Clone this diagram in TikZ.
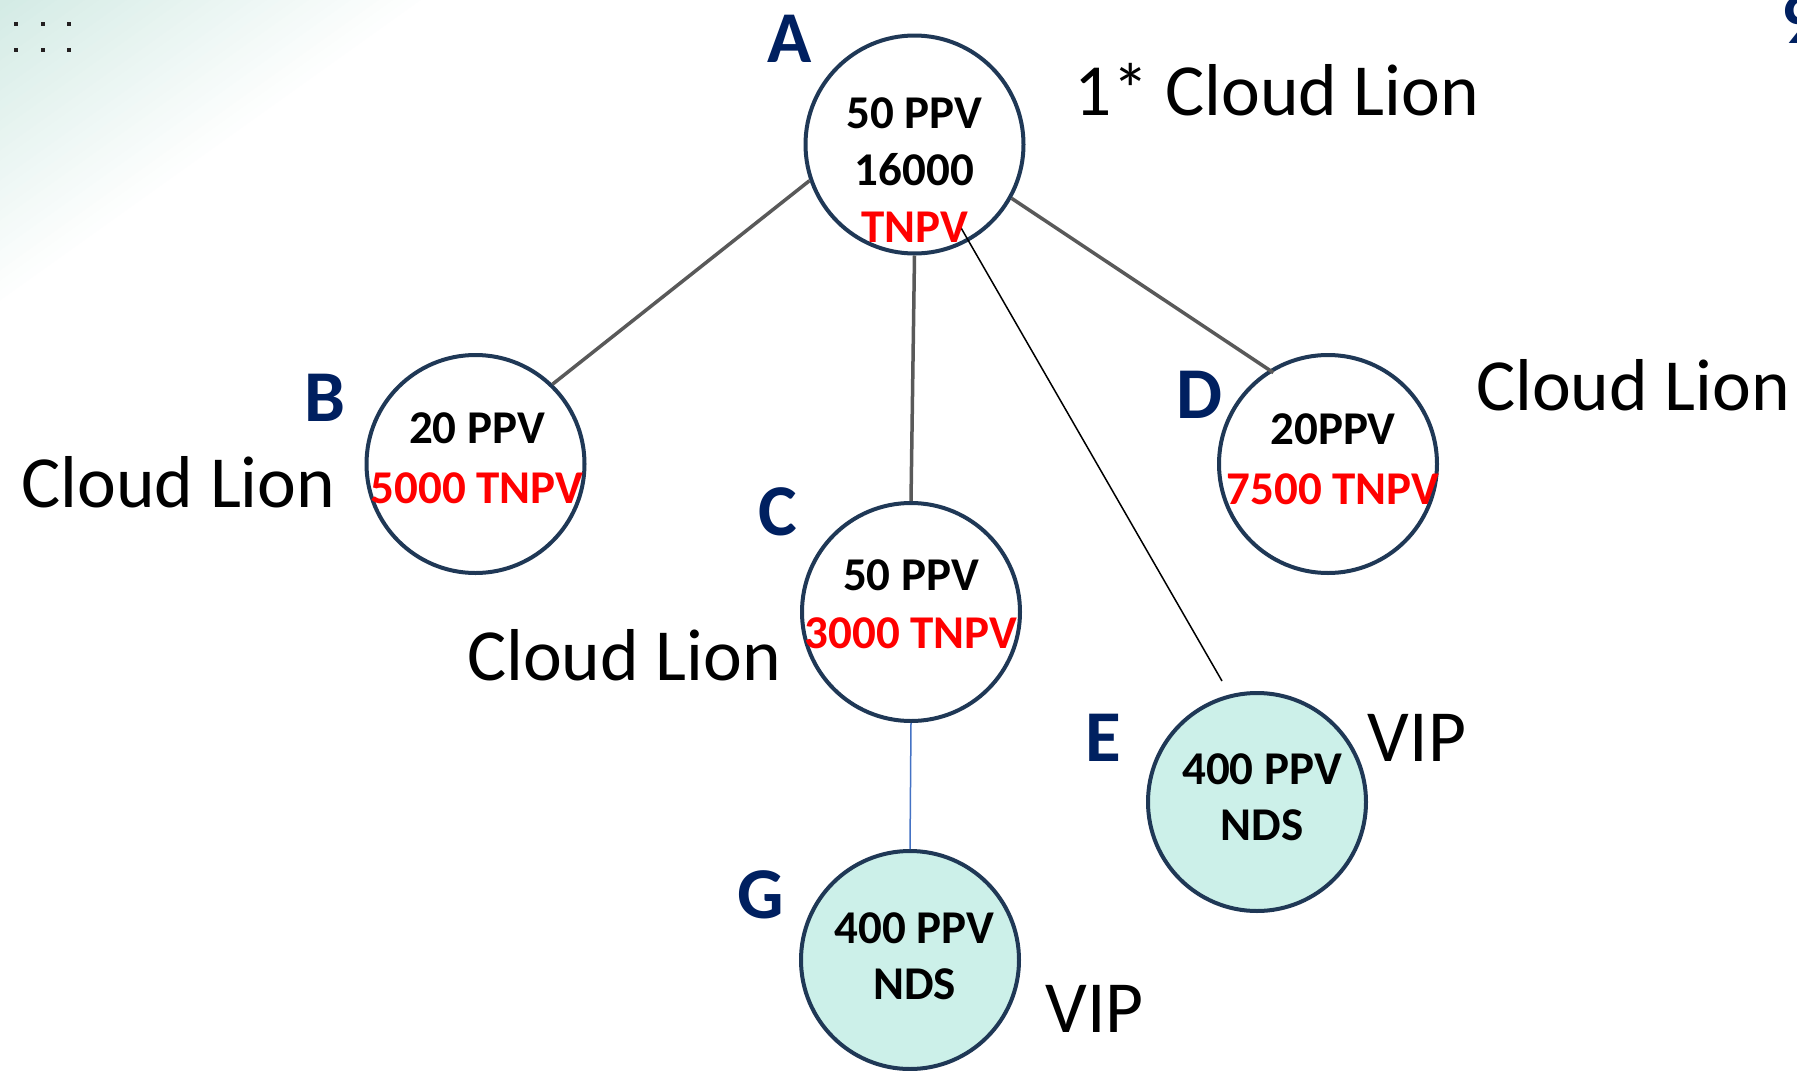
\documentclass[tikz,border=0pt]{standalone}
\usepackage{fontspec}
\setmainfont{Carlito}
\usetikzlibrary{calc}
\definecolor{navy}{RGB}{0,32,96}
\definecolor{ring}{RGB}{31,56,86}
\definecolor{edgegray}{RGB}{89,89,89}
\definecolor{vipfill}{RGB}{204,240,233}
\definecolor{linkblue}{RGB}{68,114,196}
\definecolor{bgteal}{RGB}{212,235,229}
\definecolor{dotcol}{RGB}{35,31,32}
\begin{document}
\begin{tikzpicture}[x=1pt,y=-1pt,
  circ/.style={circle, draw=ring, line width=4pt, minimum size=218pt, inner sep=0pt, fill=white},
  vip/.style={circ, fill=vipfill},
  intext/.style={font=\fontsize{47}{58}\selectfont\bfseries, align=center, anchor=base, inner sep=0pt},
  letter/.style={font=\fontsize{73}{80}\selectfont\bfseries, text=navy, anchor=base, inner sep=0pt},
  tag/.style={font=\fontsize{73.5}{80}\selectfont, anchor=base, inner sep=0pt},
  link/.style={draw=edgegray, line width=3.5pt},
  dot/.style={fill=dotcol}
]
\clip (0,0) rectangle (1797,1071);
\fill[white] (0,0) rectangle (1797,1071);
% background corner gradient (stepped)
\foreach \k in {1,...,30}{
  \pgfmathsetmacro\tt{1-(\k-1)/30}
  \pgfmathsetmacro\pc{\k*100/30}
  \fill[bgteal!\pc!white] (0,0) -- (420*\tt,0) -- (0,300*\tt) -- cycle;
}
% small dots
\foreach \px in {16,43,69}{
  \foreach \py in {24,50}{
    \fill[dot] (\px-2,\py-2) rectangle (\px+2,\py+2);
  }
}
% circles
\node[circ] (A) at (914.5,144.5) {};
\node[circ] (B) at (475.5,464) {};
\node[circ] (C) at (911,612) {};
\node[circ] (D) at (1328,464) {};
\node[vip]  (E) at (1257,802) {};
\node[vip]  (G) at (910,960) {};
% connectors
\coordinate (ae1) at ($(A)+(45.5,81.6)$);
\coordinate (ae2) at ($(E)+(-35,-121)$);
\draw[link] (A.199) -- (B.46);
\draw[link] (A.south) -- (C.north);
\draw[link, shorten >=-5pt] (A.-29) -- (D.122);
\draw[line width=1.5pt] (ae1) -- (ae2);
\draw[draw=linkblue, line width=1.5pt] (C.south) -- (G.north);
% texts inside circles (anchored at the baseline of the last line)
\node[intext, font=\fontsize{47}{57}\selectfont\bfseries] (At) at (914.5,242) {50 PPV\\16000\\\textcolor{red}{TNPV}};
\node[intext, font=\fontsize{47}{60}\selectfont\bfseries] (Bt) at (477,503) {20 PPV\\\textcolor{red}{5000 TNPV}};
\node[intext] (Ct) at (911,648) {50 PPV\\\textcolor{red}{3000 TNPV}};
\node[intext, font=\fontsize{47}{60}\selectfont\bfseries] (Dt) at (1333,504) {20PPV\\\textcolor{red}{7500 TNPV}};
\node[intext, font=\fontsize{47}{56}\selectfont\bfseries] (Et) at (1262,840) {400 PPV\\NDS};
\node[intext, font=\fontsize{47}{56}\selectfont\bfseries] (Gt) at (914.5,999) {400 PPV\\NDS};
% letters
\node[letter] (LA) at (789.5,62) {A};
\node[letter] (LB) at (324.5,421.7) {B};
\node[letter] (LC) at (778,535) {C};
\node[letter] (LD) at (1199,418) {D};
\node[letter] (LE) at (1103,761) {E};
\node[letter] (LG) at (761,918) {G};
\node[letter, anchor=base west] (pg) at (1781,43) {9};
% tags
\node[tag] (tA) at (1277,115.7) {1* Cloud Lion};
\node[tag] (tD) at (1633,410) {Cloud Lion};
\node[tag] (tB) at (178.5,507.7) {Cloud Lion};
\node[tag] (tC) at (624,680.7) {Cloud Lion};
\node[tag] (tE) at (1417,761) {VIP};
\node[tag] (tG) at (1094.5,1032.5) {VIP};
\end{tikzpicture}
\end{document}
